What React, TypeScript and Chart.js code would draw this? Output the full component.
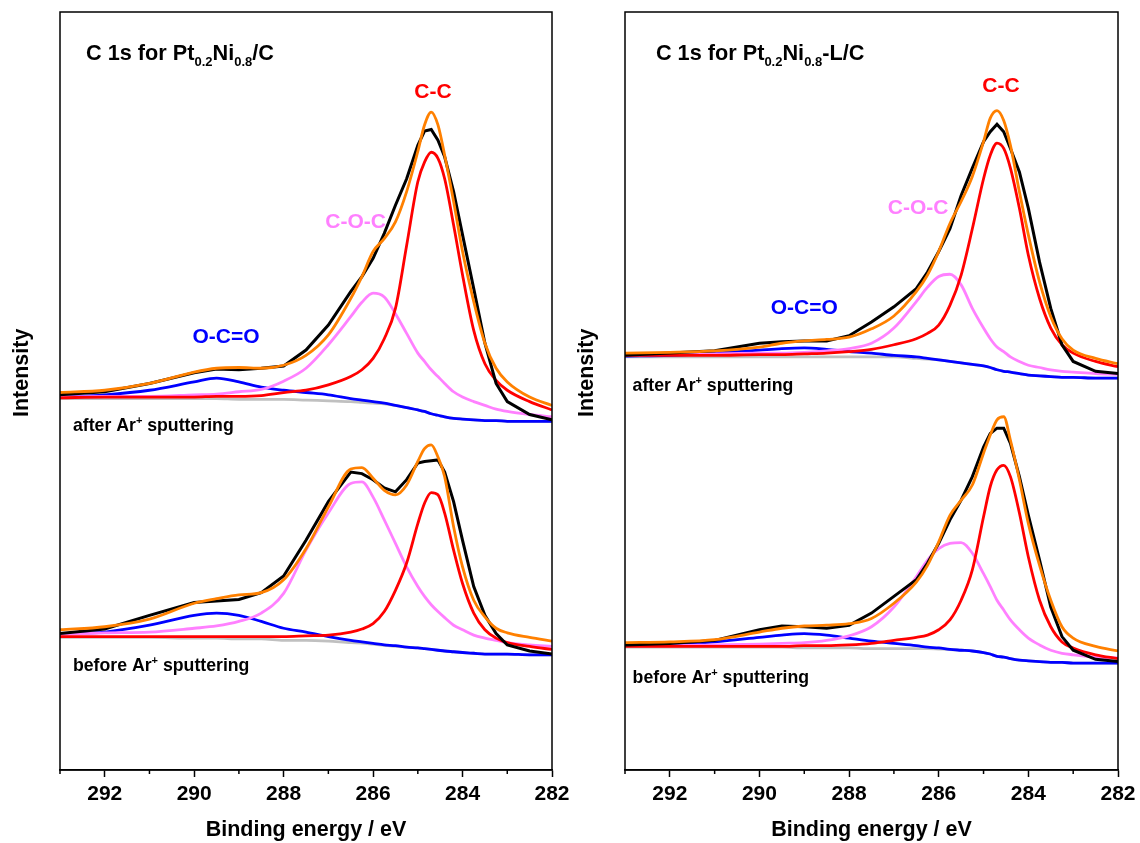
import React, { useEffect, useRef } from "react";
import { Chart, registerables } from "chart.js";

Chart.register(...registerables);

const FONT = '"Liberation Sans", Arial, Helvetica, sans-serif';

// Binding energy grid (eV), shared by every curve
const energies = [293, 292, 291, 290, 289.5, 289, 288.5, 288, 287.5, 287, 286.5, 286.25, 286, 285.75, 285.5, 285.25, 285, 284.85, 284.7, 284.55, 284.4, 284.2, 284, 283.75, 283.5, 283.25, 283, 282.5, 282];
const xTickStep = 2;

// ---- Pt0.2Ni0.8/C, after Ar+ sputtering (intensity, a.u.)
const ptNiAfterRaw = [49.5, 49.9, 51.0, 52.4, 52.9, 52.8, 53.0, 53.3, 55.4, 58.7, 63.1, 65.1, 67.5, 70.8, 74.5, 78.0, 82.4, 84.3, 84.5, 83.1, 80.9, 76.3, 70.6, 63.5, 56.3, 51.0, 48.6, 46.9, 46.2];
const ptNiAfterEnv = [49.8, 50.1, 51.0, 52.5, 53.0, 53.1, 53.0, 53.4, 54.7, 57.4, 62.2, 65.1, 68.4, 70.1, 72.3, 76.3, 81.6, 85.1, 86.8, 85.1, 81.1, 75.0, 68.4, 61.8, 56.3, 53.0, 51.2, 49.2, 48.1];
const ptNiAfterCC = [49.1, 49.2, 49.2, 49.2, 49.3, 49.3, 49.4, 49.8, 50.1, 50.8, 51.9, 52.8, 54.3, 56.9, 60.9, 69.2, 77.6, 80.2, 81.5, 80.7, 78.0, 71.9, 65.3, 58.0, 53.6, 51.4, 50.1, 48.6, 47.5];
const ptNiAfterCOC = [49.2, 49.3, 49.3, 49.5, 49.6, 49.9, 50.2, 51.3, 53.0, 56.1, 59.8, 61.7, 62.9, 62.4, 60.2, 57.6, 55.0, 53.9, 52.8, 51.9, 51.0, 49.9, 49.2, 48.6, 48.1, 47.6, 47.3, 46.9, 46.6];
const ptNiAfterOCO = [49.2, 49.5, 50.1, 51.2, 51.7, 51.2, 50.5, 50.1, 49.8, 49.5, 49.0, 48.8, 48.6, 48.4, 48.1, 47.8, 47.5, 47.3, 47.0, 46.8, 46.6, 46.4, 46.3, 46.2, 46.1, 46.1, 46.0, 46.0, 46.0];
const ptNiAfterBg = [49.0, 49.0, 49.0, 49.0, 49.0, 48.9, 48.9, 48.9, 48.8, 48.7, 48.6, 48.5, 48.4, 48.3, 48.1, 47.8, 47.5, 47.3, 47.0, 46.8, 46.6, 46.4, 46.3, 46.2, 46.1, 46.1, 46.0, 46.0, 46.0];

// ---- Pt0.2Ni0.8/C, before Ar+ sputtering
const ptNiBeforeRaw = [18.0, 18.6, 20.4, 22.1, 22.3, 22.5, 23.4, 25.6, 30.3, 35.4, 39.3, 39.1, 38.3, 37.2, 36.7, 38.3, 40.5, 40.7, 40.8, 40.9, 39.3, 35.4, 30.3, 24.2, 20.4, 18.0, 16.5, 15.7, 15.3];
const ptNiBeforeEnv = [18.5, 18.9, 19.9, 22.0, 22.6, 23.1, 23.4, 25.1, 29.2, 34.7, 39.7, 39.9, 38.5, 36.9, 36.3, 37.6, 40.7, 42.4, 42.9, 41.3, 38.7, 32.1, 26.8, 22.4, 20.2, 18.7, 18.1, 17.5, 17.0];
const ptNiBeforeCC = [17.6, 17.6, 17.6, 17.6, 17.6, 17.6, 17.6, 17.6, 17.7, 17.8, 18.2, 18.6, 19.3, 20.9, 23.7, 27.3, 32.5, 35.2, 36.6, 36.3, 33.9, 29.0, 24.6, 20.7, 18.5, 17.4, 16.8, 16.3, 15.9];
const ptNiBeforeCOC = [17.9, 18.1, 18.2, 18.7, 19.0, 19.6, 20.7, 23.3, 29.0, 33.9, 37.8, 38.0, 36.0, 33.0, 29.9, 26.8, 24.2, 22.9, 21.8, 20.9, 20.1, 19.1, 18.5, 17.8, 17.4, 17.1, 16.8, 16.5, 16.3];
const ptNiBeforeOCO = [18.0, 18.2, 19.1, 20.4, 20.7, 20.4, 19.6, 18.7, 18.2, 17.6, 17.1, 16.9, 16.7, 16.5, 16.4, 16.2, 16.1, 16.0, 15.9, 15.8, 15.7, 15.6, 15.5, 15.4, 15.3, 15.3, 15.3, 15.2, 15.2];
const ptNiBeforeBg = [17.5, 17.5, 17.5, 17.4, 17.4, 17.3, 17.3, 17.1, 17.1, 17.0, 16.8, 16.75, 16.6, 16.45, 16.3, 16.2, 16.1, 16.0, 15.9, 15.8, 15.7, 15.6, 15.5, 15.4, 15.3, 15.3, 15.3, 15.2, 15.2];

// ---- Pt0.2Ni0.8-L/C, after Ar+ sputtering
const ptNiLAfterRaw = [54.7, 55.0, 55.3, 56.3, 56.5, 56.6, 56.6, 57.3, 59.1, 61.1, 63.5, 65.7, 68.4, 71.4, 75.8, 79.4, 82.9, 84.2, 85.2, 84.2, 82.0, 78.9, 74.1, 67.0, 60.9, 56.1, 53.9, 52.6, 52.3];
const ptNiLAfterEnv = [55.0, 55.1, 55.3, 55.8, 56.3, 56.6, 56.8, 57.1, 58.2, 59.9, 63.1, 65.3, 68.4, 72.1, 75.0, 78.3, 82.9, 86.0, 87.0, 85.7, 82.4, 76.3, 70.6, 64.4, 59.8, 56.9, 55.4, 54.3, 53.6];
const ptNiLAfterCC = [54.7, 54.7, 54.7, 54.8, 54.8, 54.9, 55.0, 55.2, 55.5, 56.1, 56.9, 57.6, 58.7, 61.3, 65.3, 71.4, 78.0, 81.1, 82.7, 82.0, 79.4, 74.1, 67.9, 62.2, 58.3, 56.1, 55.0, 53.9, 53.2];
const ptNiLAfterCOC = [54.7, 54.8, 54.9, 55.0, 55.0, 55.1, 55.3, 55.6, 56.3, 58.3, 61.8, 63.7, 65.1, 65.4, 64.0, 60.9, 58.3, 56.9, 55.8, 55.2, 54.5, 53.9, 53.4, 53.1, 52.8, 52.6, 52.5, 52.3, 52.2];
const ptNiLAfterOCO = [54.6, 54.7, 55.0, 55.4, 55.6, 55.7, 55.5, 55.2, 55.0, 54.7, 54.5, 54.3, 54.1, 53.9, 53.7, 53.5, 53.3, 53.1, 52.8, 52.6, 52.5, 52.3, 52.1, 52.0, 51.9, 51.8, 51.8, 51.7, 51.7];
const ptNiLAfterBg = [54.5, 54.5, 54.5, 54.5, 54.5, 54.5, 54.5, 54.5, 54.5, 54.5, 54.3, 54.2, 54.1, 53.9, 53.7, 53.5, 53.3, 53.1, 52.8, 52.6, 52.5, 52.3, 52.1, 52.0, 51.9, 51.8, 51.8, 51.7, 51.7];

// ---- Pt0.2Ni0.8-L/C, before Ar+ sputtering
const ptNiLBeforeRaw = [16.5, 16.7, 17.1, 18.5, 19.0, 18.9, 18.7, 19.1, 20.7, 22.9, 25.1, 27.3, 29.9, 33.0, 35.6, 38.7, 42.6, 44.4, 45.1, 45.1, 43.1, 38.7, 33.6, 27.7, 21.5, 17.6, 15.8, 14.6, 14.3];
const ptNiLBeforeEnv = [16.8, 16.9, 17.2, 18.2, 18.7, 19.0, 19.1, 19.3, 20.0, 22.0, 24.8, 27.0, 30.1, 33.6, 35.6, 37.6, 41.8, 44.2, 46.2, 46.6, 43.5, 38.3, 32.5, 27.0, 22.4, 18.9, 17.4, 16.3, 15.7];
const ptNiLBeforeCC = [16.3, 16.3, 16.3, 16.3, 16.3, 16.4, 16.4, 16.5, 16.7, 17.1, 17.5, 17.8, 18.5, 19.8, 22.4, 26.4, 33.4, 37.4, 39.6, 40.2, 38.7, 33.9, 28.1, 22.4, 18.9, 16.9, 16.1, 15.2, 14.7];
const ptNiLBeforeCOC = [16.4, 16.4, 16.5, 16.6, 16.7, 16.8, 17.1, 17.7, 18.9, 21.5, 25.5, 27.7, 29.2, 29.9, 30.0, 28.6, 25.9, 24.2, 22.4, 21.1, 19.8, 18.5, 17.4, 16.5, 15.8, 15.4, 15.2, 14.9, 14.8];
const ptNiLBeforeOCO = [16.5, 16.6, 16.9, 17.5, 17.8, 18.0, 17.8, 17.4, 17.0, 16.7, 16.4, 16.2, 16.1, 15.9, 15.8, 15.7, 15.5, 15.3, 15.0, 14.9, 14.7, 14.5, 14.4, 14.3, 14.2, 14.2, 14.1, 14.1, 14.1];
const ptNiLBeforeBg = [16.2, 16.2, 16.2, 16.2, 16.2, 16.1, 16.1, 16.1, 16.0, 16.0, 16.0, 16.0, 15.95, 15.9, 15.8, 15.7, 15.5, 15.3, 15.0, 14.9, 14.7, 14.5, 14.4, 14.3, 14.2, 14.2, 14.1, 14.1, 14.1];

const COLORS = {
  raw: "#000000",
  env: "#FF8000",
  cc: "#FF0000",
  coc: "#FF80FF",
  oco: "#0000FF",
  bg: "#C0C0C0",
};

type Seg = { t: string; k?: "sub" | "sup" };
type Label = { segs: Seg[]; e: number; i: number; color: string; size: number; align: "left" | "center" };
type Fit = { raw: number[]; env: number[]; cc: number[]; coc: number[]; oco: number[]; bg: number[] };

const ptNiAfter: Fit = { raw: ptNiAfterRaw, env: ptNiAfterEnv, cc: ptNiAfterCC, coc: ptNiAfterCOC, oco: ptNiAfterOCO, bg: ptNiAfterBg };
const ptNiBefore: Fit = { raw: ptNiBeforeRaw, env: ptNiBeforeEnv, cc: ptNiBeforeCC, coc: ptNiBeforeCOC, oco: ptNiBeforeOCO, bg: ptNiBeforeBg };
const ptNiLAfter: Fit = { raw: ptNiLAfterRaw, env: ptNiLAfterEnv, cc: ptNiLAfterCC, coc: ptNiLAfterCOC, oco: ptNiLAfterOCO, bg: ptNiLAfterBg };
const ptNiLBefore: Fit = { raw: ptNiLBeforeRaw, env: ptNiLBeforeEnv, cc: ptNiLBeforeCC, coc: ptNiLBeforeCOC, oco: ptNiLBeforeOCO, bg: ptNiLBeforeBg };

const afterText: Seg[] = [{ t: "after Ar" }, { t: "+", k: "sup" }, { t: " sputtering" }];
const beforeText: Seg[] = [{ t: "before Ar" }, { t: "+", k: "sup" }, { t: " sputtering" }];

const leftLabels: Label[] = [
  { segs: [{ t: "C 1s for Pt" }, { t: "0.2", k: "sub" }, { t: "Ni" }, { t: "0.8", k: "sub" }, { t: "/C" }], e: 292.42, i: 93.7, color: "#000", size: 21.7, align: "left" },
  { segs: [{ t: "C-C" }], e: 284.66, i: 88.6, color: COLORS.cc, size: 21, align: "center" },
  { segs: [{ t: "C-O-C" }], e: 286.39, i: 71.5, color: COLORS.coc, size: 21, align: "center" },
  { segs: [{ t: "O-C=O" }], e: 289.29, i: 56.3, color: COLORS.oco, size: 21, align: "center" },
  { segs: afterText, e: 292.71, i: 44.7, color: "#000", size: 17.7, align: "left" },
  { segs: beforeText, e: 292.71, i: 13.0, color: "#000", size: 17.7, align: "left" },
];

const rightLabels: Label[] = [
  { segs: [{ t: "C 1s for Pt" }, { t: "0.2", k: "sub" }, { t: "Ni" }, { t: "0.8", k: "sub" }, { t: "-L/C" }], e: 292.31, i: 93.7, color: "#000", size: 21.7, align: "left" },
  { segs: [{ t: "C-C" }], e: 284.61, i: 89.4, color: COLORS.cc, size: 21, align: "center" },
  { segs: [{ t: "C-O-C" }], e: 286.46, i: 73.4, color: COLORS.coc, size: 21, align: "center" },
  { segs: [{ t: "O-C=O" }], e: 289.0, i: 60.1, color: COLORS.oco, size: 21, align: "center" },
  { segs: afterText, e: 292.83, i: 50.0, color: "#000", size: 17.7, align: "left" },
  { segs: beforeText, e: 292.83, i: 11.5, color: "#000", size: 17.7, align: "left" },
];

function drawRich(ctx: CanvasRenderingContext2D, segs: Seg[], x: number, y: number, size: number, color: string, align: string) {
  const small = Math.round(size * 0.62);
  const f = (s: number) => `bold ${s}px ${FONT}`;
  let total = 0;
  const widths = segs.map((s) => {
    ctx.font = f(s.k ? small : size);
    const w = ctx.measureText(s.t).width;
    total += w;
    return w;
  });
  let cx = align === "center" ? x - total / 2 : x;
  ctx.fillStyle = color;
  ctx.textAlign = "left";
  ctx.textBaseline = "alphabetic";
  segs.forEach((s, k) => {
    ctx.font = f(s.k ? small : size);
    const dy = s.k === "sub" ? size * 0.27 : s.k === "sup" ? -size * 0.4 : 0;
    ctx.fillText(s.t, cx, y + dy);
    cx += widths[k];
  });
}

function buildDatasets(fit: Fit) {
  const pts = (arr: number[]) => energies.map((e, k) => ({ x: e, y: arr[k] }));
  const common = { pointRadius: 0, fill: false, borderWidth: 2.8 };
  return [
    { ...common, data: pts(fit.env), borderColor: COLORS.env, order: 0, cubicInterpolationMode: "monotone" },
    { ...common, data: pts(fit.raw), borderColor: COLORS.raw, order: 1, tension: 0, borderWidth: 3 },
    { ...common, data: pts(fit.cc), borderColor: COLORS.cc, order: 2, cubicInterpolationMode: "monotone" },
    { ...common, data: pts(fit.coc), borderColor: COLORS.coc, order: 3, cubicInterpolationMode: "monotone" },
    { ...common, data: pts(fit.oco), borderColor: COLORS.oco, order: 4, cubicInterpolationMode: "monotone" },
    { ...common, data: pts(fit.bg), borderColor: COLORS.bg, order: 5, cubicInterpolationMode: "monotone" },
  ];
}

function Panel(props: { x: number; w: number; padLeft: number; padRight: number; after: Fit; before: Fit; labels: Label[] }) {
  const ref = useRef<HTMLCanvasElement>(null);
  useEffect(() => {
    const canvas = ref.current;
    if (!canvas) return;
    const decor = {
      id: "decor",
      afterDraw(chart: any) {
        const { ctx, chartArea } = chart;
        const xs = chart.scales.x;
        const ys = chart.scales.y;
        ctx.save();
        ctx.strokeStyle = "#000";
        ctx.lineWidth = 1.5;
        ctx.strokeRect(chartArea.left, chartArea.top, chartArea.right - chartArea.left, chartArea.bottom - chartArea.top);
        for (let v = 283; v <= 293; v += 2) {
          const px = xs.getPixelForValue(v);
          ctx.beginPath();
          ctx.moveTo(px, chartArea.bottom);
          ctx.lineTo(px, chartArea.bottom + 4);
          ctx.stroke();
        }
        ctx.translate(chartArea.left - 37.5, chartArea.top + 0.476 * (chartArea.bottom - chartArea.top));
        ctx.rotate(-Math.PI / 2);
        ctx.font = `bold 21.5px ${FONT}`;
        ctx.fillStyle = "#000";
        ctx.textAlign = "center";
        ctx.textBaseline = "middle";
        ctx.fillText("Intensity", 0, 0);
        ctx.restore();
        ctx.save();
        props.labels.forEach((l) => {
          drawRich(ctx, l.segs, xs.getPixelForValue(l.e), ys.getPixelForValue(l.i), l.size, l.color, l.align);
        });
        ctx.restore();
      },
    };
    const chart = new Chart(canvas, {
      type: "line",
      data: { datasets: [...buildDatasets(props.after), ...buildDatasets(props.before)] as any },
      options: {
        responsive: false,
        animation: false,
        events: [],
        layout: { padding: { left: props.padLeft, right: props.padRight, top: 12, bottom: 0 } },
        plugins: { legend: { display: false }, tooltip: { enabled: false } },
        scales: {
          x: {
            type: "linear",
            reverse: true,
            min: 282,
            max: 293,
            afterFit: (scale: any) => {
              scale.height = 73;
            },
            ticks: {
              stepSize: xTickStep,
              includeBounds: false,
              color: "#000",
              padding: 5,
              maxRotation: 0,
              font: { family: FONT, size: 21, weight: "bold" },
              callback: (v: any) => String(v),
            },
            grid: { display: true, drawOnChartArea: false, drawTicks: true, tickLength: 7, tickColor: "#000", tickWidth: 1.5 },
            border: { display: true, color: "#000", width: 1.5 },
            title: {
              display: true,
              text: "Binding energy / eV",
              color: "#000",
              font: { family: FONT, size: 21.5, weight: "bold" },
              padding: { top: 0, bottom: 0 },
            },
          },
          y: { type: "linear", display: false, min: 0, max: 100 },
        },
      } as any,
      plugins: [decor],
    });
    return () => chart.destroy();
  }, []);
  return (
    <canvas
      ref={ref}
      width={props.w}
      height={843}
      style={{ position: "absolute", left: props.x, top: 0, width: props.w, height: 843 }}
    />
  );
}

export default function App() {
  return (
    <div style={{ position: "absolute", left: 0, top: 0, width: 1140, height: 843, background: "#fff", overflow: "hidden" }}>
      <Panel x={0} w={580} padLeft={60} padRight={28} after={ptNiAfter} before={ptNiBefore} labels={leftLabels} />
      <Panel x={571} w={575} padLeft={54} padRight={28} after={ptNiLAfter} before={ptNiLBefore} labels={rightLabels} />
    </div>
  );
}
